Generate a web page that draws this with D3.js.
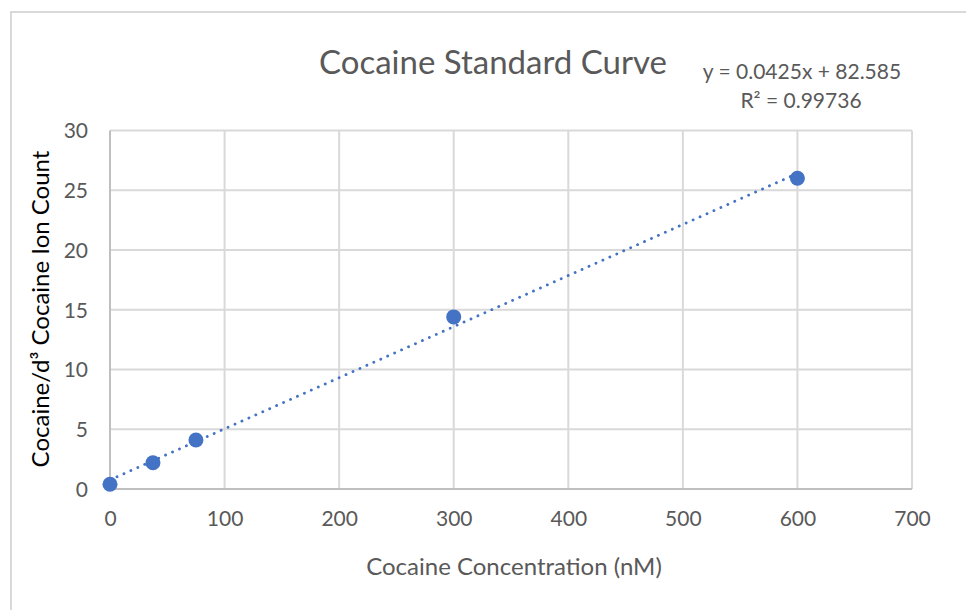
<!DOCTYPE html>
<html><head><meta charset="utf-8">
<script src="https://cdn.jsdelivr.net/npm/d3@7"></script>
<style>body{margin:0;background:#fff}svg{display:block}</style>
</head><body>
<script>
const concentrations = [0, 37.5, 75, 300, 600];
const ratios = [0.4, 2.2, 4.1, 14.4, 26.0];
const xTicks = [0, 100, 200, 300, 400, 500, 600, 700];
const yTicks = [0, 5, 10, 15, 20, 25, 30];
const titleText = "Cocaine Standard Curve";
const equationText = "y = 0.0425x + 82.585";
const r2Text = "R² = 0.99736";
const xTitle = "Cocaine Concentration (nM)";
const yTitle = "Cocaine/d³ Cocaine Ion Count";

const W = 966, H = 610;
const font = "Lato, 'Open Sans', sans-serif";
const svg = d3.select("body").append("svg").attr("width", W).attr("height", H);

svg.append("rect").attr("x", 11).attr("y", 12).attr("width", W + 20).attr("height", H + 20)
  .attr("fill", "#fff").attr("stroke", "#d9d9d9").attr("stroke-width", 2);

const x = d3.scaleLinear().domain([0, 700]).range([110, 912]);
const y = d3.scaleLinear().domain([0, 30]).range([489, 130.5]);

const grid = svg.append("g");
grid.selectAll(".vx").data(xTicks).join("line")
  .attr("x1", d => x(d)).attr("x2", d => x(d)).attr("y1", y(0)).attr("y2", y(30))
  .attr("stroke", "#d9d9d9").attr("stroke-width", 2);
grid.selectAll(".hy").data(yTicks).join("line")
  .attr("x1", x(0)).attr("x2", x(700)).attr("y1", d => y(d)).attr("y2", d => y(d))
  .attr("stroke", "#d9d9d9").attr("stroke-width", 2);
grid.append("line").attr("x1", x(0)).attr("x2", x(0)).attr("y1", y(0)).attr("y2", y(30))
  .attr("stroke", "#bfbfbf").attr("stroke-width", 2);
grid.append("line").attr("x1", x(0)).attr("x2", x(700)).attr("y1", y(0)).attr("y2", y(0))
  .attr("stroke", "#bfbfbf").attr("stroke-width", 2);

const xAxis = svg.append("g").attr("transform", `translate(0,${y(0)})`)
  .call(d3.axisBottom(x).tickValues(xTicks).tickSize(0).tickPadding(22));
const yAxis = svg.append("g").attr("transform", `translate(${x(0)},0)`)
  .call(d3.axisLeft(y).tickValues(yTicks).tickSize(0).tickPadding(22));
[xAxis, yAxis].forEach(a => {
  a.select(".domain").remove();
  a.selectAll("text").attr("font-family", font).attr("font-size", 21).attr("fill", "#595959");
});
yAxis.selectAll("text").attr("dy", "0.35em");

// trendline (least squares)
const n = concentrations.length;
const mx = d3.mean(concentrations), my = d3.mean(ratios);
let sxy = 0, sxx = 0;
for (let i = 0; i < n; i++) { sxy += (concentrations[i]-mx)*(ratios[i]-my); sxx += (concentrations[i]-mx)**2; }
const slope = sxy / sxx, intercept = my - slope * mx;
const xr = d3.extent(concentrations);
svg.append("line")
  .attr("x1", x(xr[0])).attr("y1", y(intercept + slope*xr[0]))
  .attr("x2", x(xr[1])).attr("y2", y(intercept + slope*xr[1]))
  .attr("stroke", "#4472c4").attr("stroke-width", 2.8)
  .attr("stroke-dasharray", "0.1,7.5").attr("stroke-linecap", "round");

svg.selectAll(".pt").data(concentrations).join("circle")
  .attr("cx", d => x(d)).attr("cy", (d, i) => y(ratios[i])).attr("r", 7.5)
  .attr("fill", "#4472c4");

svg.append("text").attr("x", 493).attr("y", 74).attr("text-anchor", "middle")
  .attr("font-family", font).attr("font-size", 33).attr("fill", "#595959").text(titleText);
svg.append("text").attr("x", 802).attr("y", 79).attr("text-anchor", "middle")
  .attr("font-family", font).attr("font-size", 21).attr("fill", "#595959").text(equationText);
svg.append("text").attr("x", 801).attr("y", 108).attr("text-anchor", "middle")
  .attr("font-family", font).attr("font-size", 21).attr("fill", "#595959").text(r2Text);
svg.append("text").attr("x", 514).attr("y", 575).attr("text-anchor", "middle")
  .attr("font-family", font).attr("font-size", 24).attr("fill", "#595959").text(xTitle);
svg.append("text").attr("transform", "translate(49,309) rotate(-90)").attr("text-anchor", "middle")
  .attr("font-family", font).attr("font-size", 24).attr("fill", "#000").text(yTitle);
</script>
</body></html>
